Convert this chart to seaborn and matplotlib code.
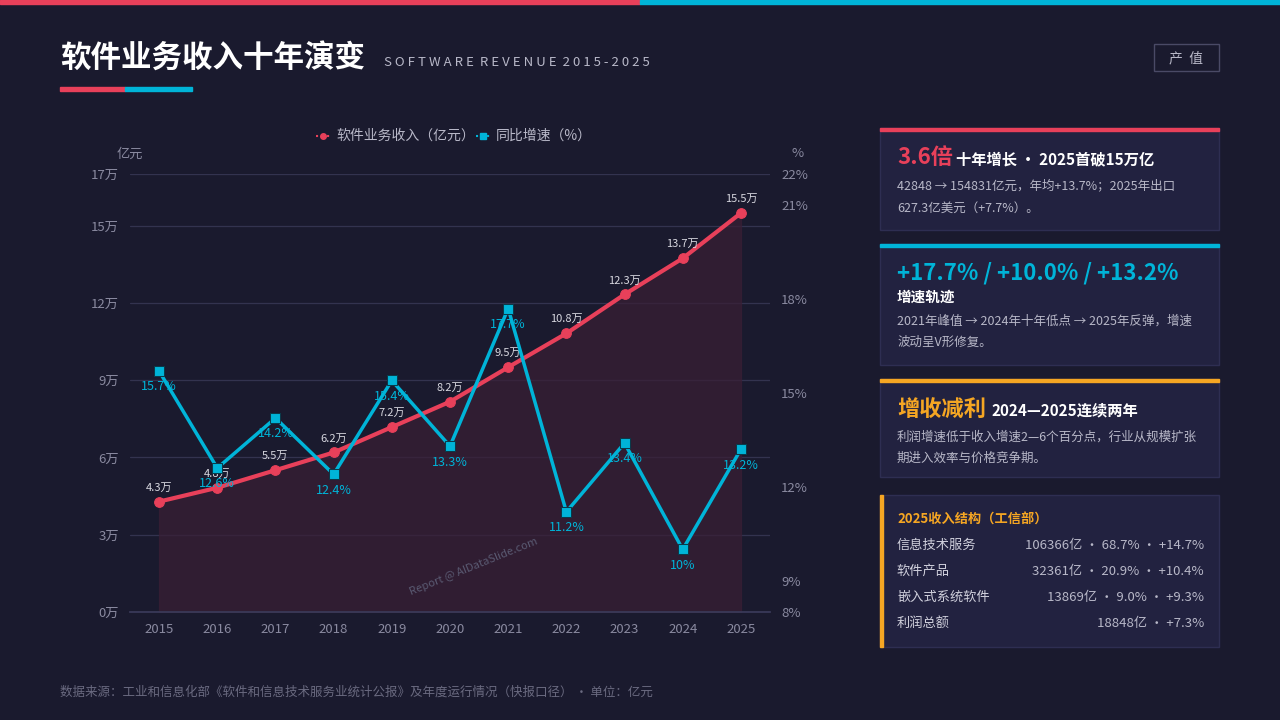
import numpy as np
import pandas as pd
import matplotlib
matplotlib.use("Agg")
import matplotlib.pyplot as plt
import seaborn as sns
from matplotlib.patches import Rectangle

# data
years = [2015, 2016, 2017, 2018, 2019, 2020, 2021, 2022, 2023, 2024, 2025]
revenue = [42848, 48232, 55037, 61909, 71768, 81616, 94994, 108126, 123258, 137276, 154831]
growth = [15.7, 12.6, 14.2, 12.4, 15.4, 13.3, 17.7, 11.2, 13.4, 10.0, 13.2]
rev_labels = ["4.3万", "4.8万", "5.5万", "6.2万", "7.2万", "8.2万", "9.5万", "10.8万", "12.3万", "13.7万", "15.5万"]
growth_labels = ["15.7%", "12.6%", "14.2%", "12.4%", "15.4%", "13.3%", "17.7%", "11.2%", "13.4%", "10%", "13.2%"]
left_ticks = [0, 3, 6, 9, 12, 15, 17]
right_ticks = [8, 9, 12, 15, 18, 21, 22]

BG = "#1a1a2e"
CARD = "#222240"
EDGE = "#2e2e52"
RED = "#e8405a"
CYAN = "#00b4d8"
ORANGE = "#f5a623"
GRAY = "#8a8aa0"
LIGHT = "#b8b8c8"

sns.set_theme(style="dark")
plt.rcParams["font.family"] = ["Noto Sans CJK SC", "DejaVu Sans"]

df = pd.DataFrame({"idx": range(len(years)), "rev": [r / 10000 for r in revenue], "g": growth})

fig = plt.figure(figsize=(12.8, 7.2), dpi=100, facecolor=BG)

def fx(px):
    return px / 1280

def fy(py):
    return 1 - py / 720

# top bar
fig.patches.append(Rectangle((0, fy(4)), 0.5, 4 / 720, transform=fig.transFigure, color=RED, zorder=5))
fig.patches.append(Rectangle((0.5, fy(4)), 0.5, 4 / 720, transform=fig.transFigure, color=CYAN, zorder=5))

# title
fig.text(fx(60), fy(58), "软件业务收入十年演变", color="white", fontsize=22, fontweight="bold", va="center")
fig.text(fx(384), fy(63), "S O F T W A R E  R E V E N U E  2 0 1 5 - 2 0 2 5", color=LIGHT, fontsize=9.5, va="center")
fig.patches.append(Rectangle((fx(60), fy(91)), 65 / 1280, 4 / 720, transform=fig.transFigure, color=RED))
fig.patches.append(Rectangle((fx(125), fy(91)), 67 / 1280, 4 / 720, transform=fig.transFigure, color=CYAN))
fig.patches.append(Rectangle((fx(1154), fy(71)), 65 / 1280, 27 / 720, transform=fig.transFigure,
                             facecolor="none", edgecolor="#4a4a66", lw=1))
fig.text(fx(1186), fy(58), "产  值", color=LIGHT, fontsize=10, ha="center", va="center")

# main chart
ax = fig.add_axes([fx(130), 108 / 720, 640 / 1280, 438 / 720])
ax.set_facecolor(BG)
ax.fill_between(df["idx"], df["rev"], 0, color="#3a1f35", alpha=0.7, zorder=1)
sns.lineplot(data=df, x="idx", y="rev", ax=ax, color=RED, lw=3, marker="o", markersize=7,
             markeredgecolor=RED, zorder=3)
ax.set_xlim(-0.5, 10.5)
ax.set_ylim(0, 17)
ax.set_yticks(left_ticks)
ax.set_yticklabels([f"{t}万" for t in left_ticks], color=GRAY, fontsize=9.5)
ax.set_xticks(range(len(years)))
ax.set_xticklabels([str(y) for y in years], color=GRAY, fontsize=9.5)
ax.set_xlabel("")
ax.set_ylabel("")
ax.grid(axis="y", color="#33334f", lw=0.9)
ax.grid(axis="x", visible=False)
for s in ax.spines.values():
    s.set_visible(False)
ax.spines["bottom"].set_visible(True)
ax.spines["bottom"].set_color("#3a3a5a")
ax.tick_params(length=0, pad=8)
for i, lab in enumerate(rev_labels):
    ax.text(i, df["rev"][i] + 0.35, lab, color="#d8d8e0", fontsize=8, ha="center", va="bottom", zorder=6)

ax2 = ax.twinx()
sns.lineplot(data=df, x="idx", y="g", ax=ax2, color=CYAN, lw=2.5, marker="s", markersize=7,
             markeredgecolor="#0a3a4a", zorder=4)
ax2.set_ylim(8, 22)
ax2.set_yticks(right_ticks)
ax2.set_yticklabels([f"{t}%" for t in right_ticks], color=GRAY, fontsize=9.5)
ax2.set_ylabel("")
ax2.grid(False)
for s in ax2.spines.values():
    s.set_visible(False)
ax2.tick_params(length=0, pad=8)
for i, lab in enumerate(growth_labels):
    ax2.text(i, growth[i] - 0.3, lab, color=CYAN, fontsize=9, ha="center", va="top", zorder=6)

ax.text(-0.5, 17.5, "亿元", color=GRAY, fontsize=9.5, ha="center", va="bottom")
ax2.text(10.98, 22.45, "%", color=GRAY, fontsize=9.5, ha="center", va="bottom")
ax.text(5.4, 1.75, "Report @ AIDataSlide.com", color="#5a5a72", fontsize=8, rotation=22,
        ha="center", va="center", zorder=2)

# legend
ly = 1.087
ax.plot([0.302], [ly], transform=ax.transAxes, marker="o", color=RED, ms=4, clip_on=False)
ax.plot([0.29, 0.314], [ly, ly], transform=ax.transAxes, color=RED, lw=1.5, ls=":", clip_on=False)
ax.text(0.322, ly, "软件业务收入（亿元）", transform=ax.transAxes, color=LIGHT, fontsize=10, va="center")
ax.plot([0.552], [ly], transform=ax.transAxes, marker="s", color=CYAN, ms=4, clip_on=False)
ax.plot([0.54, 0.564], [ly, ly], transform=ax.transAxes, color=CYAN, lw=1.5, ls=":", clip_on=False)
ax.text(0.572, ly, "同比增速（%）", transform=ax.transAxes, color=LIGHT, fontsize=10, va="center")

# cards
def card(top, bottom, accent, side=False):
    fig.patches.append(Rectangle((fx(880), fy(bottom)), 339 / 1280, (bottom - top) / 720,
                                 transform=fig.transFigure, facecolor=CARD, edgecolor=EDGE, lw=1))
    if side:
        fig.patches.append(Rectangle((fx(880), fy(bottom)), 3 / 1280, (bottom - top) / 720,
                                     transform=fig.transFigure, color=accent))
    else:
        fig.patches.append(Rectangle((fx(880), fy(top + 3)), 339 / 1280, 3 / 720,
                                     transform=fig.transFigure, color=accent))

card(128, 230, RED)
fig.text(fx(897), fy(158), "3.6倍", color=RED, fontsize=16, fontweight="bold", va="center")
fig.text(fx(956), fy(159), "十年增长 · 2025首破15万亿", color="white", fontsize=11, fontweight="bold", va="center")
fig.text(fx(897), fy(186), "42848 → 154831亿元，年均+13.7%；2025年出口", color=LIGHT, fontsize=9, va="center")
fig.text(fx(897), fy(208), "627.3亿美元（+7.7%）。", color=LIGHT, fontsize=9, va="center")

card(244, 365, CYAN)
fig.text(fx(897), fy(273), "+17.7% / +10.0% / +13.2%", color=CYAN, fontsize=16, fontweight="bold", va="center")
fig.text(fx(897), fy(297), "增速轨迹", color="white", fontsize=10.5, fontweight="bold", va="center")
fig.text(fx(897), fy(321), "2021年峰值 → 2024年十年低点 → 2025年反弹，增速", color=LIGHT, fontsize=9, va="center")
fig.text(fx(897), fy(342), "波动呈V形修复。", color=LIGHT, fontsize=9, va="center")

card(379, 477, ORANGE)
fig.text(fx(897), fy(409), "增收减利", color=ORANGE, fontsize=16, fontweight="bold", va="center")
fig.text(fx(992), fy(410), "2024—2025连续两年", color="white", fontsize=11, fontweight="bold", va="center")
fig.text(fx(897), fy(437), "利润增速低于收入增速2—6个百分点，行业从规模扩张", color=LIGHT, fontsize=9, va="center")
fig.text(fx(897), fy(458), "期进入效率与价格竞争期。", color=LIGHT, fontsize=9, va="center")

card(495, 647, ORANGE, side=True)
fig.text(fx(897), fy(520), "2025收入结构（工信部）", color=ORANGE, fontsize=9.5, fontweight="bold", va="center")
rows = [("信息技术服务", "106366亿 · 68.7% · +14.7%"),
        ("软件产品", "32361亿 · 20.9% · +10.4%"),
        ("嵌入式系统软件", "13869亿 · 9.0% · +9.3%"),
        ("利润总额", "18848亿 · +7.3%")]
for k, (name, val) in enumerate(rows):
    y = 545 + 26 * k
    fig.text(fx(897), fy(y), name, color="#d0d0dc", fontsize=9.5, va="center")
    fig.text(fx(1204), fy(y), val, color=LIGHT, fontsize=9.5, va="center", ha="right")

fig.text(fx(60), fy(692), "数据来源：工业和信息化部《软件和信息技术服务业统计公报》及年度运行情况（快报口径） · 单位：亿元",
         color="#6a6a80", fontsize=9, va="center")

fig.savefig("out.png", dpi=100, facecolor=BG)
